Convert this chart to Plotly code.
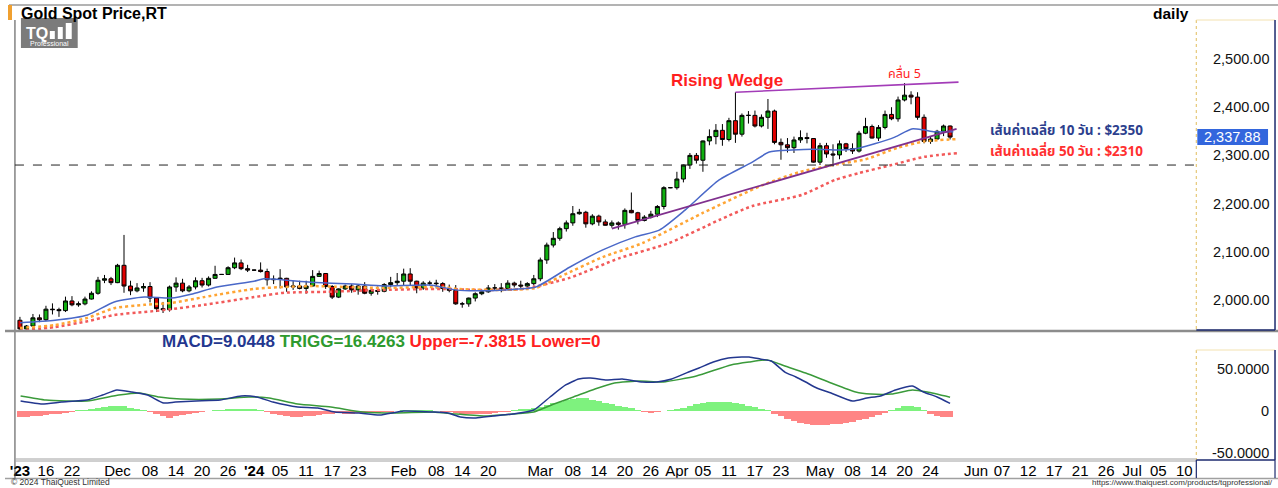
import pandas as pd
import plotly.graph_objects as go

W, H = 1278, 488

# ---------------- data ----------------
dates = pd.bdate_range("2023-11-10", "2024-05-29")  # 144 daily bars (holidays shown flat)

open_ = [1958,1940,1946,1963,1959,1981,1980,1978,1998,1990,1992,2002,2014,2041,2044,2036,2072,2029,2019,2025,
         2028,2004,1982,1980,2027,2035,2019,2027,2040,2031,2045,2053,2053,2067,2077,2065,2062,2062,2059,2042,
         2043,2045,2027,2029,2024,2029,2049,2055,2028,2006,2023,2029,2021,2029,2014,2020,2018,2032,2036,2039,
         2054,2039,2025,2035,2035,2034,2024,2020,1992,1992,2004,2013,2017,2025,2025,2024,2035,2031,2029,2034,
         2044,2083,2114,2128,2148,2160,2179,2182,2158,2174,2162,2155,2160,2157,2186,2181,2165,2172,2178,2194,
         2233,2233,2251,2280,2300,2290,2330,2339,2352,2333,2372,2344,2383,2383,2361,2379,2392,2327,2322,2316,
         2332,2337,2335,2286,2320,2303,2301,2324,2314,2309,2346,2360,2336,2358,2385,2376,2415,2425,2421,2379,
         2329,2334,2350,2361]
high = [1965,1948,1971,1970,1988,1993,1984,2007,2008,1997,2007,2018,2048,2052,2048,2075,2135,2040,2035,2035,
        2037,2006,1996,2030,2047,2044,2031,2047,2046,2049,2071,2054,2070,2088,2084,2073,2063,2078,2065,2051,
        2064,2046,2040,2040,2040,2062,2061,2055,2031,2024,2032,2033,2031,2037,2023,2028,2035,2048,2056,2065,
        2066,2040,2039,2040,2042,2037,2032,2031,1996,2005,2016,2022,2031,2033,2035,2041,2038,2040,2037,2052,
        2088,2119,2141,2152,2165,2195,2189,2185,2178,2177,2167,2165,2163,2190,2223,2183,2176,2185,2197,2236,
        2234,2266,2281,2305,2305,2331,2354,2365,2365,2378,2431,2387,2392,2393,2385,2417,2395,2335,2336,2339,
        2352,2347,2335,2326,2326,2323,2331,2326,2325,2351,2378,2364,2363,2393,2400,2422,2450,2433,2431,2385,
        2340,2353,2364,2362]
low = [1931,1932,1938,1954,1956,1970,1965,1975,1987,1986,1989,2001,2011,2035,2031,2035,2015,2010,2016,2017,
       1995,1975,1973,1976,2017,2016,2016,2022,2026,2028,2044,2052,2052,2064,2062,2058,2061,2057,2030,2033,
       2024,2017,2021,2022,2013,2028,2050,2023,2002,2004,2021,2015,2011,2012,2009,2011,2016,2026,2030,2031,
       2030,2014,2021,2030,2024,2017,2016,1990,1984,1986,1997,2010,2015,2020,2016,2021,2026,2025,2024,2030,
       2039,2075,2109,2123,2142,2154,2177,2150,2155,2154,2156,2150,2146,2148,2180,2157,2163,2169,2172,2188,
       2232,2229,2244,2272,2283,2266,2321,2323,2320,2329,2326,2339,2366,2358,2358,2355,2323,2291,2306,2305,
       2326,2325,2285,2280,2295,2277,2292,2307,2303,2306,2344,2335,2330,2354,2373,2370,2412,2406,2374,2325,
       2324,2333,2340,2333]
close = [1940,1946,1963,1959,1981,1980,1978,1998,1990,1992,2002,2014,2041,2044,2036,2072,2029,2019,2025,2028,
         2004,1982,1980,2027,2035,2019,2027,2040,2031,2045,2053,2053,2067,2077,2065,2062,2062,2059,2042,2043,
         2045,2027,2029,2024,2029,2049,2055,2028,2006,2023,2029,2021,2029,2014,2020,2018,2032,2036,2039,2054,
         2039,2025,2035,2035,2034,2024,2020,1992,1992,2004,2013,2017,2025,2025,2024,2035,2031,2029,2034,2044,
         2083,2114,2128,2148,2160,2179,2182,2158,2174,2162,2155,2160,2157,2186,2181,2165,2172,2178,2194,2233,
         2233,2251,2280,2300,2290,2330,2339,2352,2333,2372,2344,2383,2383,2361,2379,2392,2327,2322,2316,2332,
         2337,2335,2286,2320,2303,2301,2324,2314,2309,2346,2360,2336,2358,2385,2376,2415,2425,2421,2379,2329,
         2334,2350,2361,2338]

# moving averages (bar index, price)
ma_blue_x = [0,5.4,10.4,14.5,19.1,23.3,26.3,30.3,36,37.5,44.7,51.3,55.9,63,67,70,74.3,79.3,84.5,89.6,
             94.6,98.3,102.3,107.5,112.6,115.2,118.7,121.7,126.3,128.9,131.4,134.5,137.1,138.9,140.6,143.5]
ma_blue_y = [1953,1958,1969,1996,2006,2004,2012,2027,2039,2044,2037,2033,2029,2031,2021,2019,2021,2027,2068,2104,
             2131,2145,2187,2249,2286,2307,2311,2313,2311,2315,2324,2338,2355,2353,2349,2349]
ma_orange_x = [0,5.4,10.4,14.5,19.1,23.3,28.3,36,40.6,44.7,49.8,55.9,65.1,67.1,74.3,79.3,83,89.6,95.7,
               104.9,114.1,120,125,130,135,139,144.3]
ma_orange_y = [1942,1948,1963,1983,1990,1994,2006,2023,2027,2029,2027,2025,2027,2023,2021,2025,2048,2089,2118,
               2180,2238,2266,2280,2292,2316,2329,2334]
ma_red_x = [0,5.4,10.4,14.5,19.1,23.3,28.3,36,40.6,47.2,55.9,65.1,70.1,77.3,84.5,92.2,99.8,107.5,112.6,120.2,
            125.3,128.9,134,139,144.3]
ma_red_y = [1936,1944,1956,1969,1975,1981,1990,2006,2015,2017,2021,2023,2021,2023,2046,2087,2118,2166,2195,2218,
            2249,2263,2280,2297,2305]

# MACD (bar index, value)
macd_x = [0.1,3.4,6.4,10.3,12.7,14.9,17.2,19.6,22.1,23.9,27.1,30.8,34,36.4,38.9,42.7,45.8,48.4,52.1,55.3,
          59,63.4,65.8,67.7,70.1,72.7,75.8,79,81.5,83.9,85.9,87.7,90.2,92.6,95.7,97.9,100.2,102.8,104.4,106.6,
          108.9,111,112.1,113.8,115.5,117.6,119.3,120.8,122.5,124.7,128,130.2,132.3,134.6,137.2,138.9,141,143]
macd_y = [11.9,8.3,10.7,13.1,19.0,25.0,22.6,19.0,9.5,10.7,11.9,13.1,17.9,16.7,10.7,4.8,3.6,-1.2,-2.4,-4.8,
          0,-1.2,-2.4,-7.1,-8.3,-6.0,-3.6,1.2,16.7,31.0,38.1,39.3,36.9,38.1,34.5,34.5,38.1,46.4,51.2,58.3,
          63.1,64.3,64.3,61.9,59.5,46.4,40.5,34.5,27.4,21.4,11.9,15.5,17.9,25.0,29.8,22.6,16.7,9.0448]
trigg_x = [0.1,4,10.3,15.2,18.4,21.4,24.7,30.8,35.2,38.3,42.7,47.8,52.7,57.7,63.4,67.1,71.5,75.8,79,82.1,
           85.1,88.4,91.4,95.3,98.9,104,109.3,112.1,114.9,117.6,120.8,124.7,128.5,130.8,134,137.2,139.5,143]
trigg_y = [17.9,13.1,11.9,19.0,21.4,16.7,14.3,14.3,16.7,15.5,8.3,4.8,-1.2,-2.4,-1.2,-3.6,-6.0,-3.6,-1.2,8.3,
           16.7,26.2,33.3,35.7,34.5,41.7,54.8,58.3,60.7,53.6,45.2,33.3,22.6,20.2,20.2,25.0,22.6,16.4263]
hist = [-7,-7,-6.5,-6,-5,-4,-3,-2,-0.5,0.3,1,2,3,4.5,5.5,6,5.5,4,2,0.5,
        -0.5,-3,-6,-8,-6.5,-5,-3.5,-2,-1,0,0.3,1,1.8,2.5,2.5,2,1.5,0.5,-1,-3,
        -5,-6.5,-7,-7,-6.5,-6,-5,-4,-3,-2,-3,-3,-2.5,-2,-2,-1.5,-1,-0.5,0,0.3,
        0.5,0.5,0.3,0.2,0,-0.5,-1,-2,-3.5,-4,-4,-3.5,-3,-2,-1,-0.5,0.5,1.5,2,3,
        4.5,7,9,11,13,14.5,15.5,15,13.5,12,10,8,6.5,5,4,1,-1,-1.5,-1,0,
        1,2,4,6,8,9.5,10.5,11,11,10.5,9.5,8,6.5,4.5,2.5,0.5,-3,-6,-9,-12,
        -14,-16,-17,-17,-16.5,-16,-15,-14,-12.5,-11,-9,-7,-4.5,-2,1,3.5,5.5,6,4.5,1,
        -4,-6,-7,-7.3815]

# trend lines (bar index, price)
wedge_upper_x, wedge_upper_y = [110, 144.3], [2431, 2452]
wedge_lower_x, wedge_lower_y = [91, 144.0], [2148, 2355]
support_level = 2280
last_price = 2337.88

price_ticks = [2000, 2100, 2200, 2300, 2400, 2500]
macd_ticks = [50, 0, -50]
macd_tick_text = ["50.0000", "0", "-50.0000"]

tick_dates = ["2023-11-10","2023-11-16","2023-11-22","2023-12-01","2023-12-08","2023-12-14","2023-12-20",
              "2023-12-26","2024-01-01","2024-01-05","2024-01-11","2024-01-17","2024-01-23","2024-02-01",
              "2024-02-08","2024-02-14","2024-02-20","2024-03-01","2024-03-08","2024-03-14","2024-03-20",
              "2024-03-26","2024-04-01","2024-04-05","2024-04-11","2024-04-17","2024-04-23","2024-05-01",
              "2024-05-08","2024-05-14","2024-05-20","2024-05-24","2024-06-03","2024-06-07","2024-06-12",
              "2024-06-17","2024-06-21","2024-06-26","2024-07-01","2024-07-05","2024-07-10"]
tick_text = ["<b>'23</b>","16","22","Dec","08","14","20","26","<b>'24</b>","05","11","17","23","Feb","08","14",
             "20","Mar","08","14","20","26","Apr","05","11","17","23","May","08","14","20","24","Jun","07",
             "12","17","21","26","Jul","05","10"]

# ---------------- helpers ----------------
# bar calendar: weekdays for the history, projected Mon-Sat slots for the empty future area
future = pd.bdate_range("2024-05-30", "2024-07-31", freq="C", weekmask="Mon Tue Wed Thu Fri Sat")
calendar = list(dates) + list(future)
cal_index = {d.strftime("%Y-%m-%d"): i for i, d in enumerate(calendar)}
tick_vals = [cal_index[d] for d in tick_dates]
xi = list(range(len(dates)))

def px(x):
    return x / W

def py(y):
    return 1 - y / H

FONT = "Liberation Sans, Arial, sans-serif"
THAI = "Noto Sans Thai, Loma, Tahoma, Liberation Sans, sans-serif"

fig = go.Figure()

# moving averages
fig.add_trace(go.Scatter(x=ma_red_x, y=ma_red_y, mode="lines", yaxis="y",
                         line=dict(color="#f25a5a", width=2.5, dash="dot", shape="spline", smoothing=0.6),
                         hoverinfo="skip"))
fig.add_trace(go.Scatter(x=ma_orange_x, y=ma_orange_y, mode="lines", yaxis="y",
                         line=dict(color="#ffa534", width=2.5, dash="dot", shape="spline", smoothing=0.6),
                         hoverinfo="skip"))
fig.add_trace(go.Scatter(x=ma_blue_x, y=ma_blue_y, mode="lines", yaxis="y",
                         line=dict(color="#4a68c8", width=1.5, shape="spline", smoothing=0.6),
                         hoverinfo="skip"))

# candles
fig.add_trace(go.Candlestick(x=xi, open=open_, high=high, low=low, close=close, yaxis="y",
                             increasing=dict(line=dict(color="#000000", width=1), fillcolor="#10b010"),
                             decreasing=dict(line=dict(color="#000000", width=1), fillcolor="#e00000"),
                             whiskerwidth=0))

# wedge lines
fig.add_trace(go.Scatter(x=wedge_upper_x, y=wedge_upper_y, mode="lines", yaxis="y",
                         line=dict(color="#a33cb8", width=1.6), hoverinfo="skip"))
fig.add_trace(go.Scatter(x=wedge_lower_x, y=wedge_lower_y, mode="lines", yaxis="y",
                         line=dict(color="#80308e", width=1.8), hoverinfo="skip"))

# MACD panel
fig.add_trace(go.Bar(x=xi, y=hist, yaxis="y2", width=1.0,
                     marker=dict(color=["#7ef27e" if v >= 0 else "#ff8585" for v in hist], line=dict(width=0)),
                     hoverinfo="skip"))
fig.add_trace(go.Scatter(x=trigg_x, y=trigg_y, mode="lines", yaxis="y2",
                         line=dict(color="#3a9a3a", width=1.5, shape="spline", smoothing=0.5), hoverinfo="skip"))
fig.add_trace(go.Scatter(x=macd_x, y=macd_y, mode="lines", yaxis="y2",
                         line=dict(color="#23378f", width=1.5, shape="spline", smoothing=0.5), hoverinfo="skip"))

# axes geometry
x_left, x_right = 10, 1195
step = 6.53
r0 = -(15 - x_left) / step
r1 = r0 + (x_right - x_left) / step
main_top, main_bot = 20, 330
macd_top, macd_bot = 335, 460
p_per_px = 1 / 0.482
m_per_px = 1 / 0.84

fig.update_layout(
    width=W, height=H, margin=dict(l=0, r=0, t=0, b=0),
    paper_bgcolor="white", plot_bgcolor="white", showlegend=False,
    font=dict(family=FONT, color="#000"),
    boxgap=0.12,
    xaxis=dict(domain=[px(x_left), px(x_right)], range=[r0, r1], anchor="y2",
               tickvals=tick_vals, ticktext=tick_text, ticks="", tickangle=0, showgrid=False, zeroline=False,
               tickfont=dict(size=15, family=FONT, color="#000"), rangeslider=dict(visible=False),
               showline=False, ticklabelstandoff=0),
    yaxis=dict(domain=[py(main_bot), py(main_top)],
               range=[2000 - (main_bot - 300) * p_per_px, 2000 + (300 - main_top) * p_per_px],
               showticklabels=False, showgrid=False, zeroline=False, ticks=""),
    yaxis2=dict(domain=[py(macd_bot), py(macd_top)],
                range=[-(macd_bot - 411) * m_per_px, (411 - macd_top) * m_per_px],
                showticklabels=False, showgrid=False, zeroline=False, ticks=""),
    bargap=0,
)

shapes = []
def line(x0, y0, x1, y1, color, width=1, dash="solid"):
    shapes.append(dict(type="line", xref="paper", yref="paper", x0=px(x0), y0=py(y0), x1=px(x1), y1=py(y1),
                       line=dict(color=color, width=width, dash=dash)))

# frame lines
line(4, 5, 1278, 5, "#9a9a9a", 1.5)
shapes.append(dict(type="rect", xref="paper", yref="paper", x0=px(3), x1=px(7), y0=py(20), y1=py(5),
                   fillcolor="#f0a030", line=dict(width=0)))
line(10, 20, 10, 478, "#444", 1)
line(0, 331, 1278, 331, "#8c8c8c", 2.5)
line(10, 459, 1196, 459, "#a0a0a0", 1)
line(10, 461, 1196, 461, "#a0a0a0", 1)
line(0, 478.5, 1278, 478.5, "#a0a0a0", 1.5)
# right value boxes
for (t, b) in [(20, 330), (350, 460)]:
    line(1196, t, 1196, b, "#e6c878", 1.2, "dot")
    line(1196, t, 1275, t, "#f3e2b0", 1)
    line(1275, t, 1275, b, "#1c2a6e", 1.5)
    line(1196, b, 1275, b, "#1c2a6e", 1.5)
line(1196, 460, 1196, 478, "#1c2a6e", 1.2)
line(1275, 460, 1275, 478, "#1c2a6e", 1.2)
# support level dashed line
shapes.append(dict(type="line", xref="paper", yref="y", x0=px(x_left), x1=px(x_right),
                   y0=support_level, y1=support_level, line=dict(color="#222", width=1, dash="dash")))
# TQ logo
shapes.append(dict(type="rect", xref="paper", yref="paper", x0=px(16), x1=px(73), y0=py(48), y1=py(18),
                   fillcolor="#7b7b7b", line=dict(width=0)))
for (a, b, c) in [(45, 50, 31), (53, 58, 27), (61, 67, 23)]:
    shapes.append(dict(type="rect", xref="paper", yref="paper", x0=px(a), x1=px(b), y0=py(39), y1=py(c),
                       fillcolor="white", line=dict(width=0)))
# price tag
shapes.append(dict(type="rect", xref="paper", yref="paper", x0=px(1197), x1=px(1268),
                   y0=py(145), y1=py(129), fillcolor="#3366dd", line=dict(width=0)))
fig.update_layout(shapes=shapes)

ann = []
def text(x, y, s, size=12, color="#000", anchor="left", bold=False, family=FONT):
    ann.append(dict(x=px(x), y=py(y), xref="paper", yref="paper", text=f"<b>{s}</b>" if bold else s,
                    showarrow=False, xanchor=anchor, yanchor="middle",
                    font=dict(size=size, color=color, family=family)))

text(14, 13, "Gold Spot Price,RT", 16, bold=True)
text(1191, 13, "daily", 15.5, anchor="right", bold=True)
text(19, 33, "TQ", 16, "white", bold=True)
text(44.5, 43.5, "Professional", 7, "white", anchor="center")
for v in price_ticks:
    ann.append(dict(x=px(1271), y=v, xref="paper", yref="y", text=f"{v:,.2f}", showarrow=False,
                    xanchor="right", yanchor="middle", font=dict(size=14.5, color="#111", family=FONT)))
for v, s in zip(macd_ticks, macd_tick_text):
    ann.append(dict(x=px(1271), y=v, xref="paper", yref="y2", text=s, showarrow=False,
                    xanchor="right", yanchor="middle", font=dict(size=14.5, color="#111", family=FONT)))
ann.append(dict(x=px(1232), y=last_price, xref="paper", yref="y", text=f"{last_price:,.2f}", showarrow=False,
                xanchor="center", yanchor="middle", font=dict(size=14.5, color="white", family=FONT)))
text(725, 81, "Rising Wedge", 17, "#ff1e1e", anchor="center", bold=True)
text(903, 75, "คลื่น 5", 12.5, "#ff1e1e", anchor="center", family=THAI)
text(987, 131, "เส้นค่าเฉลี่ย 10 วัน : $2350", 13.5, "#2d3f8e", bold=True, family=THAI)
text(987, 152, "เส้นค่าเฉลี่ย 50 วัน : $2310", 13.5, "#ff3030", bold=True, family=THAI)
text(377, 341,
     '<span style="color:#23378f">MACD=9.0448</span> <span style="color:#2e9a2e">TRIGG=16.4263</span> '
     '<span style="color:#ff2020">Upper=-7.3815 Lower=0</span>', 17, anchor="center", bold=True)
text(4, 482, "© 2024 ThaiQuest Limited", 8.5, "#333")
text(1275, 482, "https://www.thaiquest.com/products/tqprofessional/", 8, "#333", anchor="right")
fig.update_layout(annotations=ann)

fig.write_html("out.html", config={"displayModeBar": False},
               post_script="document.body.style.margin='0';document.body.style.overflow='hidden';")
